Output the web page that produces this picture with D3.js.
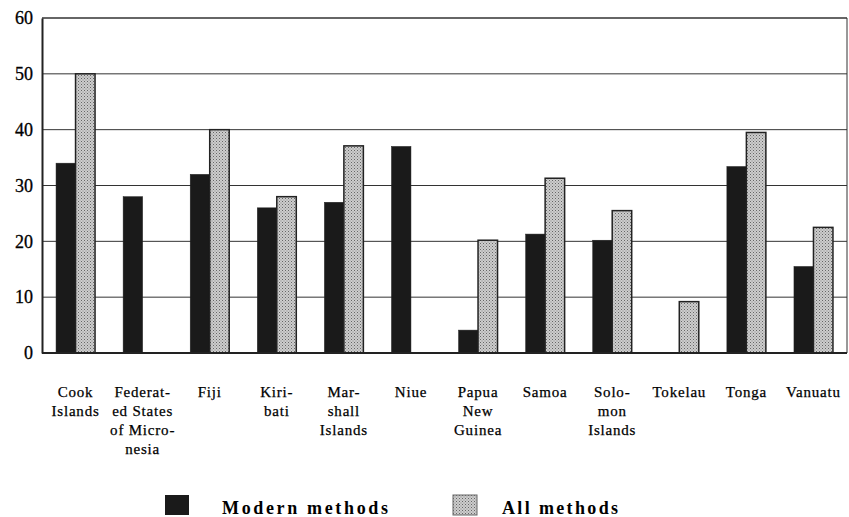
<!DOCTYPE html>
<html>
<head>
<meta charset="utf-8">
<script src="https://cdn.jsdelivr.net/npm/d3@7"></script>
<style>
  body { margin: 0; background: #fff; }
  text { font-family: "Liberation Serif", "DejaVu Serif", serif; fill: #000; }
</style>
</head>
<body>
<div id="chart"></div>
<script>
const width = 849;
const height = 517;

// categories (label lines as printed)
const countries = [
  ["Cook", "Islands"],
  ["Federat-", "ed States", "of Micro-", "nesia"],
  ["Fiji"],
  ["Kiri-", "bati"],
  ["Mar-", "shall", "Islands"],
  ["Niue"],
  ["Papua", "New", "Guinea"],
  ["Samoa"],
  ["Solo-", "mon", "Islands"],
  ["Tokelau"],
  ["Tonga"],
  ["Vanuatu"]
];
// percentage using contraception (null = not reported)
const modern = [34, 28, 32, 26, 27, 37, 4.1, 21.3, 20.2, null, 33.4, 15.5];
const all = [50, null, 40, 28, 37.1, null, 20.2, 31.3, 25.5, 9.2, 39.5, 22.5];
const yTicks = [0, 10, 20, 30, 40, 50, 60];
const seriesNames = ["Modern methods", "All methods"];

const margin = {top: 18, right: 2, bottom: 164, left: 42};
const innerW = width - margin.left - margin.right;
const innerH = height - margin.top - margin.bottom;

const svg = d3.select("#chart")
  .append("svg")
  .attr("width", width)
  .attr("height", height);

// fills
const defs = svg.append("defs");
const pat = defs.append("pattern")
  .attr("id", "dots")
  .attr("width", 3)
  .attr("height", 3)
  .attr("patternUnits", "userSpaceOnUse");
pat.append("rect").attr("width", 3).attr("height", 3).attr("fill", "#cdcdcd");
pat.append("rect").attr("x", 0).attr("y", 0).attr("width", 1).attr("height", 1).attr("fill", "#666");
pat.append("rect").attr("x", 1.5).attr("y", 1.5).attr("width", 1).attr("height", 1).attr("fill", "#888");

const g = svg.append("g")
  .attr("transform", `translate(${margin.left},${margin.top})`);

const x = d3.scaleBand()
  .domain(d3.range(countries.length))
  .range([0, innerW]);

const xs = d3.scaleBand()
  .domain([0, 1])
  .range([x.bandwidth() / 2 - 19.5, x.bandwidth() / 2 + 19.5]);

const y = d3.scaleLinear()
  .domain([0, 60])
  .range([innerH, 0]);

// gridlines
g.selectAll(".grid")
  .data(yTicks.slice(1))
  .enter()
  .append("line")
  .attr("x1", 0)
  .attr("x2", innerW)
  .attr("y1", d => y(d))
  .attr("y2", d => y(d))
  .attr("stroke", "#333")
  .attr("stroke-width", d => d === 60 ? 1.5 : 1);

// right border
g.append("line")
  .attr("x1", innerW).attr("x2", innerW)
  .attr("y1", 0).attr("y2", innerH)
  .attr("stroke", "#333");

// bars
const rows = [];
countries.forEach((c, i) => {
  if (modern[i] != null) rows.push({i, s: 0, v: modern[i]});
  if (all[i] != null) rows.push({i, s: 1, v: all[i]});
});

g.selectAll(".bar")
  .data(rows)
  .enter()
  .append("rect")
  .attr("x", d => x(d.i) + xs(d.s))
  .attr("y", d => y(d.v))
  .attr("width", xs.bandwidth())
  .attr("height", d => innerH - y(d.v))
  .attr("fill", d => d.s === 0 ? "#1a1a1a" : "url(#dots)")
  .attr("stroke", "#222")
  .attr("stroke-width", d => d.s === 0 ? 0.5 : 1.5);

// y axis
const yAxis = d3.axisLeft(y)
  .tickValues(yTicks)
  .tickSize(0)
  .tickPadding(9);
g.append("g")
  .call(yAxis)
  .call(a => a.select(".domain").attr("stroke", "#222").attr("stroke-width", 2))
  .selectAll("text")
  .attr("font-size", 18)
  .attr("font-family", "Liberation Serif, serif")
  .attr("fill", "#000")
  .attr("stroke", "#000")
  .attr("stroke-width", 0.3);

// baseline
g.append("line")
  .attr("x1", 0).attr("x2", innerW)
  .attr("y1", innerH).attr("y2", innerH)
  .attr("stroke", "#222")
  .attr("stroke-width", 2);

// category labels
const labels = g.selectAll(".xlab")
  .data(countries)
  .enter()
  .append("text")
  .attr("text-anchor", "middle")
  .attr("font-size", 15)
  .attr("letter-spacing", 0.8)
  .attr("stroke", "#000")
  .attr("stroke-width", 0.25)
  .attr("transform", (d, i) => `translate(${x(i) + x.bandwidth() / 2},${innerH + 44})`);
labels.selectAll("tspan")
  .data(d => d)
  .enter()
  .append("tspan")
  .attr("x", 0)
  .attr("dy", (d, j) => j === 0 ? 0 : 19)
  .text(d => d);

// legend
const legend = svg.append("g").attr("transform", "translate(0,495)");
const legX = [165, 453];
const legW = [166, 116];
seriesNames.forEach((name, k) => {
  legend.append("rect")
    .attr("x", legX[k])
    .attr("y", 0)
    .attr("width", 24)
    .attr("height", 20)
    .attr("fill", k === 0 ? "#1a1a1a" : "url(#dots)")
    .attr("stroke", k === 0 ? "none" : "#666");
  legend.append("text")
    .attr("x", legX[k] + 57 - k * 8)
    .attr("y", 19)
    .attr("font-size", 18)
    .attr("font-weight", "bold")
    .attr("textLength", legW[k])
    .attr("lengthAdjust", "spacing")
    .text(name);
});
</script>
</body>
</html>
